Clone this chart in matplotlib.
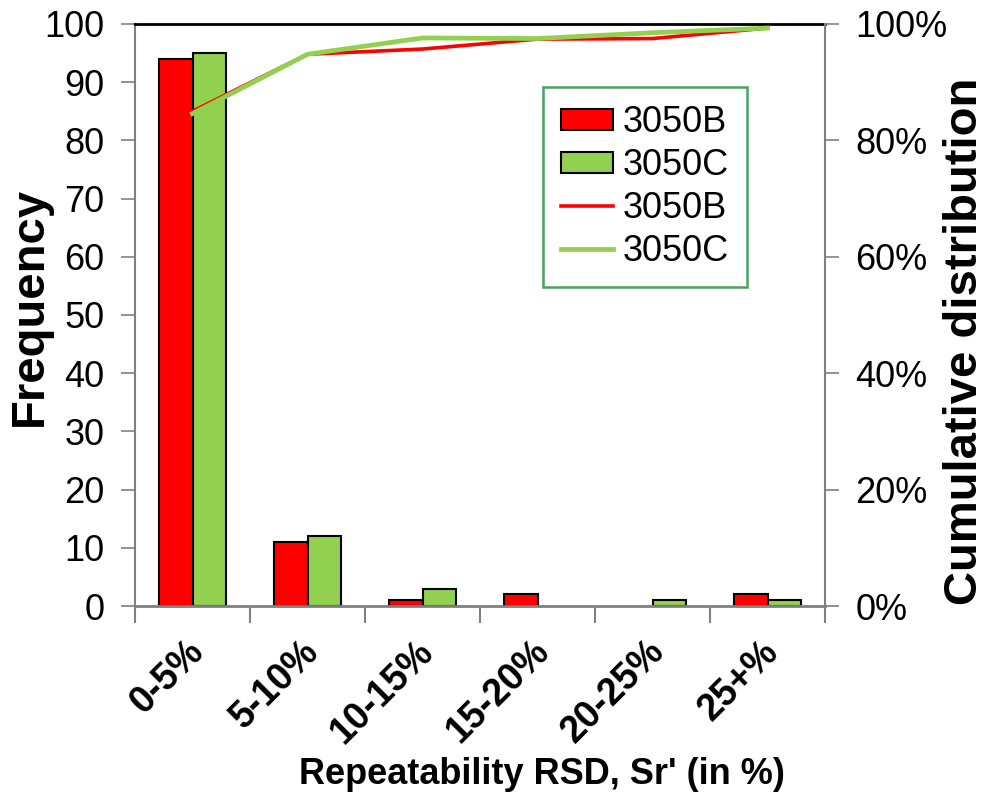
import numpy as np
import matplotlib
matplotlib.use('Agg')
import matplotlib.pyplot as plt
from matplotlib.ticker import PercentFormatter, MultipleLocator
from matplotlib.transforms import ScaledTranslation

plt.rcParams['font.family'] = ['Liberation Sans', 'DejaVu Sans']

# data
categories = ['0-5%', '5-10%', '10-15%', '15-20%', '20-25%', '25+%']
freq_b = [94, 11, 1, 2, 0, 2]
freq_c = [95, 12, 3, 0, 1, 1]
cum_b = [85.0, 94.8, 95.7, 97.4, 97.5, 99.3]
cum_c = [84.6, 94.8, 97.6, 97.5, 98.5, 99.3]

red = '#ff0000'
green = '#92d050'
grey = '#808080'

fig = plt.figure(figsize=(9.89, 8.0), dpi=100)
ax = fig.add_axes([135 / 989, 1 - 606 / 800, 690 / 989, 582 / 800])
x = np.arange(len(categories))
w = 0.29

# zero-height bars get no outline (nothing visible in the original)
lw_b = [1.5 if v > 0 else 0 for v in freq_b]
lw_c = [1.5 if v > 0 else 0 for v in freq_c]
ax.bar(x - w / 2, freq_b, w, color=red, edgecolor='black', linewidth=lw_b, label='3050B')
ax.bar(x + w / 2, freq_c, w, color=green, edgecolor='black', linewidth=lw_c, label='3050C')
ax.set_xlim(-0.5, len(categories) - 0.5)
ax.set_ylim(0, 100)
ax.yaxis.set_major_locator(MultipleLocator(10))

ax2 = ax.twinx()
ax2.plot(x, cum_b, color=red, linewidth=2.6, label='3050B')
ax2.plot(x, cum_c, color=green, linewidth=3.4, label='3050C')
ax2.set_ylim(0, 100)
ax2.yaxis.set_major_locator(MultipleLocator(20))
ax2.yaxis.set_major_formatter(PercentFormatter(decimals=0))

# spines
for a in (ax, ax2):
    for s in ('left', 'right', 'bottom'):
        a.spines[s].set_color(grey)
        a.spines[s].set_linewidth(1.5)
ax.spines['top'].set_color('black')
ax.spines['top'].set_linewidth(2)
ax.spines['bottom'].set_linewidth(2)
ax.spines['right'].set_visible(False)
ax2.spines['top'].set_visible(False)
ax2.spines['left'].set_visible(False)
ax2.spines['bottom'].set_visible(False)

# ticks
ax.tick_params(axis='y', direction='out', length=10, width=1.2, color=grey,
               labelsize=26, pad=12)
ax2.tick_params(axis='y', direction='out', length=10, width=1.2, color=grey,
                labelsize=26, pad=12)
ax.set_xticks(x)
ax.set_xticks(np.arange(len(categories) + 1) - 0.5, minor=True)
ax.tick_params(axis='x', which='major', length=0, pad=0)
ax.tick_params(axis='x', which='minor', direction='out', length=12, width=1.5, color=grey)
ax.set_xticklabels(categories, rotation=45, ha='right', va='center',
                   rotation_mode='anchor', fontsize=27, fontweight='bold')
for lab in ax.get_xticklabels():
    lab.set_transform(lab.get_transform() + ScaledTranslation(0.06, -0.40, fig.dpi_scale_trans))

# axis labels
ax.set_ylabel('Frequency', fontsize=34, fontweight='bold', va='center')
ax.yaxis.set_label_coords(-0.152, 0.514)
ax2.set_ylabel('Cumulative distribution', fontsize=34, fontweight='bold',
               rotation=90, va='center')
ax2.yaxis.set_label_coords(1.203, 0.454)
ax.set_xlabel("Repeatability RSD, Sr' (in %)", fontsize=26, fontweight='bold', va='center')
ax.xaxis.set_label_coords(0.59, -0.29)

# legend
h1, l1 = ax.get_legend_handles_labels()
h2, l2 = ax2.get_legend_handles_labels()
leg = ax2.legend(h1 + h2, l1 + l2, loc='upper left',
                 bbox_to_anchor=(543 / 989, 1 - 87 / 800), bbox_transform=fig.transFigure,
                 fontsize=26, frameon=True, fancybox=False, handlelength=1.45,
                 handleheight=0.53, handletextpad=0.25, labelspacing=0.22,
                 borderpad=0.5, borderaxespad=0)
leg.get_frame().set_edgecolor('#1e8a3e')
leg.get_frame().set_linewidth(1.8)

fig.savefig('out.png', dpi=100)
